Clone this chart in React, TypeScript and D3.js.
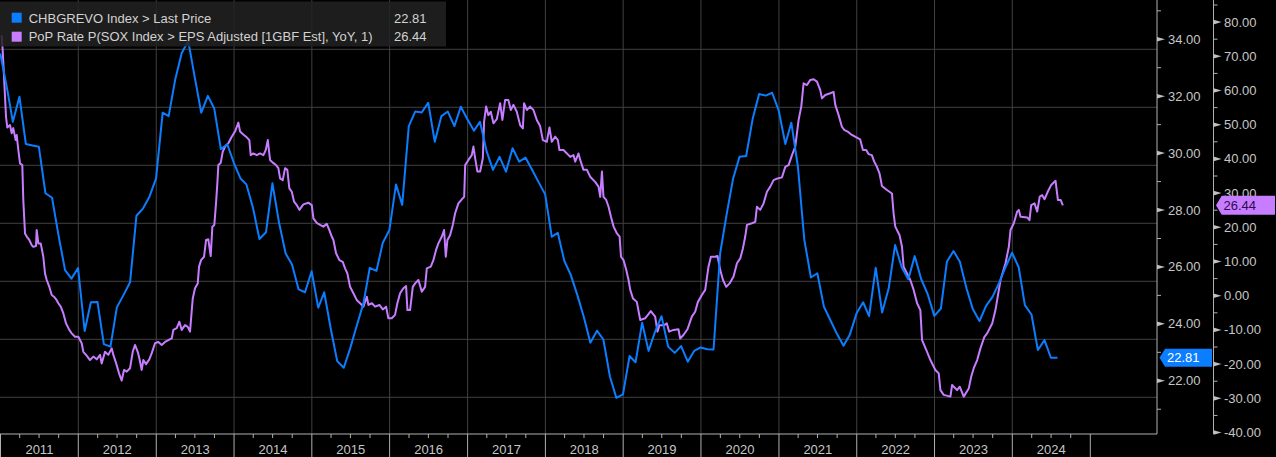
import React from 'react';
import * as d3 from 'd3';

// ---------- DATA ----------
// CHBGREVO Index > Last Price : month-end values, Dec 2010 .. Jul 2024
const blueStartYear = 2010;
const blueStartMonth = 11; // December (0-based)
const blueValues: number[] = [
  33.5,
  32.3, 31.1, 31.98, 30.32, 30.27, 30.22, 28.59, 28.43, 27.12, 25.89, 25.59, 25.96,
  23.75, 24.76, 24.77, 23.29, 23.2, 24.58, 25.01, 25.46, 27.8, 28.06, 28.47, 29.11,
  31.42, 31.3, 32.59, 33.51, 33.94, 32.69, 31.42, 32.01, 31.57, 30.14, 30.31, 29.66,
  29.11, 28.9, 28.07, 26.98, 27.22, 28.94, 27.56, 26.47, 26.09, 25.21, 25.11, 25.85,
  24.57, 25.11, 23.82, 22.69, 22.46, 23.14, 23.94, 24.72, 25.97, 25.86, 26.85, 27.3,
  28.9, 28.18, 30.95, 31.46, 31.43, 31.77, 30.4, 31.3, 31.46, 30.95, 31.63, 31.19,
  30.79, 31.1, 30.07, 29.41, 29.87, 29.35, 30.17, 29.7, 29.84, 29.41, 28.98, 28.55,
  27.06, 27.2, 26.21, 25.72, 25.01, 24.25, 23.34, 23.76, 23.45, 22.14, 21.4, 21.52,
  22.87, 22.65, 24.04, 23.05, 23.73, 24.27, 23.2, 22.98, 23.22, 22.67, 23.05, 23.17,
  23.11, 23.1, 26.48, 27.83, 29.11, 29.87, 29.9, 31.22, 32.08, 32.02, 32.12, 31.49,
  30.32, 31.07, 29.52, 26.95, 25.63, 25.78, 24.6, 24.12, 23.65, 23.23, 23.63, 24.37,
  24.76, 24.27, 25.97, 24.4, 25.25, 26.77, 25.99, 25.57, 26.38, 25.56, 25.04, 24.28,
  24.54, 26.18, 26.56, 26.18, 25.25, 24.51, 24.1, 24.63, 24.95, 25.44, 25.99, 26.5,
  25.99, 24.66, 24.33, 23.08, 23.43, 22.81, 22.81,
];

// PoP Rate P(SOX Index > EPS Adjusted [1GBF Est], YoY, 1): decimal-year times and values
const purpleT: number[] = [
  2011.015, 2011.028, 2011.071, 2011.087, 2011.122, 2011.144, 2011.164, 2011.195, 2011.208, 2011.229,
  2011.251, 2011.28, 2011.293, 2011.315, 2011.337, 2011.37, 2011.401, 2011.421, 2011.456, 2011.465,
  2011.486, 2011.517, 2011.55, 2011.572, 2011.594, 2011.627, 2011.658, 2011.687, 2011.722, 2011.743,
  2011.774, 2011.807, 2011.842, 2011.884, 2011.915, 2011.957, 2012.0, 2012.043, 2012.064, 2012.099,
  2012.15, 2012.193, 2012.236, 2012.279, 2012.3, 2012.343, 2012.385, 2012.429, 2012.45, 2012.493,
  2012.523, 2012.557, 2012.587, 2012.622, 2012.664, 2012.699, 2012.728, 2012.763, 2012.784, 2012.814,
  2012.835, 2012.87, 2012.912, 2012.943, 2012.985, 2013.028, 2013.071, 2013.114, 2013.156, 2013.2,
  2013.221, 2013.264, 2013.298, 2013.328, 2013.371, 2013.406, 2013.435, 2013.47, 2013.499, 2013.534,
  2013.551, 2013.577, 2013.615, 2013.641, 2013.67, 2013.701, 2013.722, 2013.747, 2013.769, 2013.786,
  2013.799, 2013.83, 2013.855, 2013.885, 2013.927, 2013.971, 2014.013, 2014.056, 2014.078, 2014.112,
  2014.155, 2014.197, 2014.215, 2014.249, 2014.292, 2014.335, 2014.377, 2014.408, 2014.434, 2014.463,
  2014.498, 2014.54, 2014.57, 2014.592, 2014.626, 2014.656, 2014.685, 2014.711, 2014.742, 2014.772,
  2014.806, 2014.84, 2014.891, 2014.955, 2014.999, 2015.02, 2015.063, 2015.106, 2015.148, 2015.192,
  2015.225, 2015.256, 2015.277, 2015.311, 2015.354, 2015.397, 2015.427, 2015.457, 2015.491, 2015.534,
  2015.578, 2015.62, 2015.662, 2015.706, 2015.727, 2015.771, 2015.813, 2015.868, 2015.912, 2015.954,
  2015.983, 2016.027, 2016.069, 2016.099, 2016.134, 2016.176, 2016.211, 2016.228, 2016.262, 2016.297,
  2016.327, 2016.369, 2016.413, 2016.455, 2016.477, 2016.528, 2016.562, 2016.596, 2016.626, 2016.67,
  2016.699, 2016.721, 2016.742, 2016.776, 2016.811, 2016.841, 2016.883, 2016.927, 2016.957, 2016.97,
  2017.012, 2017.055, 2017.076, 2017.098, 2017.127, 2017.162, 2017.197, 2017.213, 2017.239, 2017.268,
  2017.299, 2017.333, 2017.376, 2017.419, 2017.448, 2017.483, 2017.525, 2017.556, 2017.59, 2017.633,
  2017.676, 2017.711, 2017.727, 2017.762, 2017.804, 2017.847, 2017.89, 2017.933, 2017.968, 2018.019,
  2018.053, 2018.083, 2018.126, 2018.161, 2018.181, 2018.233, 2018.277, 2018.319, 2018.362, 2018.384,
  2018.426, 2018.448, 2018.49, 2018.534, 2018.576, 2018.64, 2018.683, 2018.705, 2018.727, 2018.747,
  2018.782, 2018.812, 2018.843, 2018.877, 2018.92, 2018.954, 2018.972, 2019.005, 2019.04, 2019.069,
  2019.091, 2019.126, 2019.175, 2019.219, 2019.282, 2019.355, 2019.411, 2019.44, 2019.466, 2019.526,
  2019.561, 2019.59, 2019.646, 2019.71, 2019.732, 2019.774, 2019.826, 2019.882, 2019.925, 2019.96,
  2020.011, 2020.054, 2020.096, 2020.127, 2020.183, 2020.212, 2020.247, 2020.282, 2020.324, 2020.367,
  2020.418, 2020.462, 2020.504, 2020.539, 2020.568, 2020.59, 2020.654, 2020.697, 2020.718, 2020.761,
  2020.804, 2020.847, 2020.89, 2020.932, 2020.984, 2021.04, 2021.083, 2021.125, 2021.169, 2021.211,
  2021.254, 2021.288, 2021.318, 2021.361, 2021.404, 2021.446, 2021.49, 2021.532, 2021.554, 2021.596,
  2021.66, 2021.703, 2021.725, 2021.768, 2021.81, 2021.84, 2021.883, 2021.938, 2022.003, 2022.045,
  2022.08, 2022.122, 2022.152, 2022.195, 2022.225, 2022.26, 2022.293, 2022.324, 2022.389, 2022.453,
  2022.474, 2022.496, 2022.551, 2022.582, 2022.603, 2022.647, 2022.689, 2022.732, 2022.776, 2022.818,
  2022.84, 2022.895, 2022.947, 2023.011, 2023.054, 2023.076, 2023.118, 2023.204, 2023.226, 2023.29,
  2023.324, 2023.375, 2023.44, 2023.471, 2023.504, 2023.548, 2023.59, 2023.641, 2023.676, 2023.741,
  2023.783, 2023.848, 2023.912, 2023.955, 2023.976, 2024.019, 2024.062, 2024.083, 2024.105, 2024.191,
  2024.22, 2024.242, 2024.285, 2024.319, 2024.352, 2024.383, 2024.413, 2024.455, 2024.499, 2024.555,
  2024.585, 2024.62, 2024.649,
];
const purpleV: number[] = [
  76.2, 71.8, 52.3, 49.2, 49.9, 47.5, 49.0, 45.5, 47.0, 42.6,
  38.7, 38.2, 28.0, 18.2, 17.3, 16.3, 14.8, 14.3, 14.5, 19.2,
  15.3, 15.3, 11.4, 6.5, 4.6, 2.6, 0.2, -0.3, -1.3, -2.2,
  -3.2, -5.1, -8.1, -10.0, -11.0, -12.0, -12.0, -13.9, -16.4, -17.3,
  -18.8, -17.8, -18.6, -17.3, -19.8, -16.4, -17.3, -15.4, -17.3, -20.3,
  -22.7, -24.8, -21.7, -22.2, -21.2, -16.4, -14.4, -16.4, -18.3, -21.7,
  -18.8, -20.0, -18.6, -16.8, -13.9, -13.5, -14.4, -13.5, -13.0, -12.5,
  -10.0, -9.5, -7.6, -10.0, -8.6, -9.1, -10.5, -0.8, 2.2, 3.6,
  8.5, 10.4, 11.4, 16.3, 16.5, 11.6, 20.2, 20.7, 27.0, 32.9,
  38.2, 38.9, 42.1, 43.6, 44.6, 46.5, 48.0, 50.6, 48.0, 47.3,
  46.5, 45.5, 41.1, 41.6, 41.1, 41.6, 41.1, 42.6, 45.5, 39.7,
  38.9, 38.2, 37.3, 34.3, 33.8, 37.3, 36.8, 31.4, 30.4, 27.5,
  26.5, 25.1, 26.7, 27.2, 26.5, 22.6, 21.3, 20.7, 20.2, 21.0,
  19.2, 17.3, 16.3, 12.4, 10.4, 9.9, 8.0, 6.5, 2.6, 0.7,
  -1.3, -2.2, -3.2, -0.3, -2.7, -2.2, -3.2, -2.7, -4.0, -3.2,
  -6.6, -6.6, -5.6, -2.2, 0.7, 2.2, 2.8, -4.2, -4.2, 2.6,
  3.6, 4.6, 1.2, 2.6, 8.0, 8.5, 10.4, 13.4, 15.3, 17.3,
  19.2, 11.4, 16.3, 17.7, 20.7, 24.1, 27.0, 28.2, 28.9, 38.2,
  39.7, 41.1, 43.6, 40.2, 36.3, 36.3, 40.2, 50.9, 55.3, 52.8,
  53.8, 50.4, 51.6, 56.3, 51.4, 57.2, 57.2, 54.3, 55.8, 53.8,
  49.9, 48.9, 56.3, 54.3, 55.3, 54.3, 51.4, 49.6, 45.5, 45.0,
  49.2, 45.0, 46.5, 45.5, 42.6, 42.6, 41.6, 40.6, 41.1, 39.2,
  41.6, 39.7, 36.8, 36.8, 34.8, 33.3, 31.9, 28.9, 36.3, 28.9,
  28.0, 26.0, 23.1, 20.2, 18.2, 17.3, 11.4, 10.4, 7.5, 4.6,
  1.7, -0.8, -1.8, -7.1, -6.6, -4.5, -6.1, -10.5, -8.6, -8.6,
  -8.1, -10.5, -10.0, -9.8, -12.5, -11.5, -9.8, -6.1, -4.7, -1.8,
  0.2, 1.7, 8.5, 11.4, 11.4, 11.6, 7.5, 4.6, 2.6, 3.6,
  5.6, 9.5, 10.9, 13.9, 17.3, 20.7, 21.2, 21.6, 26.0, 25.1,
  27.0, 30.4, 31.9, 33.8, 34.3, 34.6, 37.7, 38.2, 41.1, 43.6,
  51.4, 55.3, 62.1, 61.6, 63.1, 63.3, 62.6, 60.1, 57.7, 58.7,
  59.2, 59.6, 55.8, 52.8, 49.4, 48.5, 48.0, 47.0, 46.2, 45.7,
  42.6, 42.6, 41.4, 41.1, 39.2, 37.7, 35.8, 32.1, 30.9, 29.9,
  24.1, 20.2, 17.7, 14.3, 8.5, 6.5, 4.6, 1.7, -2.2, -4.2,
  -13.0, -15.9, -18.8, -21.7, -22.7, -27.6, -29.0, -29.5, -26.1, -27.6,
  -26.6, -29.5, -27.1, -23.7, -21.2, -18.8, -15.4, -12.0, -11.0, -8.1,
  -4.2, 4.6, 9.5, 14.3, 19.2, 21.2, 24.6, 25.1, 23.1, 22.9,
  22.1, 26.5, 27.0, 24.6, 29.0, 29.4, 28.2, 30.4, 32.4, 33.6,
  28.0, 28.0, 26.44,
];

const leftTicks = [22, 24, 26, 28, 30, 32, 34];
const leftMinor = [21, 23, 25, 27, 29, 31, 33, 35];
const rightTicks = [-40, -30, -20, -10, 0, 10, 20, 30, 40, 50, 60, 70, 80];
const rightMinor = [-35, -25, -15, -5, 5, 15, 25, 35, 45, 55, 65, 75, 85];
const years = [2011, 2012, 2013, 2014, 2015, 2016, 2017, 2018, 2019, 2020, 2021, 2022, 2023, 2024];

const blueName = 'CHBGREVO Index > Last Price';
const purpleName = 'PoP Rate P(SOX Index > EPS Adjusted [1GBF Est], YoY, 1)';
const blueLast = 22.81;
const purpleLast = 26.44;

// ---------- LAYOUT ----------
const W = 1276;
const H = 457;
const PLOT_R = 1157;
const PLOT_B = 434;
const AXIS2 = 1213.5;
const BLUE = '#0b7dff';
const PURPLE = '#c77dff';
const FONT = '"Liberation Sans", Arial, Helvetica, sans-serif';
const TXT = '#c6c6c6';

function fromDecimalYear(t: number): Date {
  const base = new Date(2011, 0, 1).getTime();
  return new Date(base + (t - 2011) * 365.25 * 86400000);
}

export default function App() {
  const x = d3.scaleTime().domain([new Date(2011, 0, 1), new Date(2025, 10, 10)]).range([0.5, PLOT_R]);
  const yL = d3.scaleLinear().domain([20.13, 35.38]).range([PLOT_B, 0]);
  const yR = d3.scaleLinear().domain([-40.43, 86.46]).range([PLOT_B, 0]);
  const yGrid = d3.scaleLinear().domain([0, 6]).range([49.3, 397.3]);

  const blueData: [Date, number][] = blueValues.map((v, i) => [
    new Date(blueStartYear, blueStartMonth + i + 1, 0),
    v,
  ]);
  const purpleData: [Date, number][] = purpleT.map((t, i) => [fromDecimalYear(t), purpleV[i]]);

  const blueLine = d3.line<[Date, number]>().x((d) => x(d[0])).y((d) => yL(d[1]));
  const purpleLine = d3.line<[Date, number]>().x((d) => x(d[0])).y((d) => yR(d[1]));

  const yearX = (y: number) => x(new Date(y, 0, 1));
  const quarterTicks: number[] = [];
  years.forEach((y) => [3, 6, 9].forEach((m) => quarterTicks.push(x(new Date(y, m, 1)))));

  const yb = yL(blueLast);
  const yp = yR(purpleLast);

  return (
    <div style={{ position: 'absolute', left: 0, top: 0, width: W, height: H, background: '#000' }}>
      <svg width={W} height={H} style={{ display: 'block', fontFamily: FONT }}>
        <defs>
          <clipPath id="plotClip">
            <rect x={0} y={0} width={PLOT_R} height={PLOT_B} />
          </clipPath>
        </defs>
        <rect x={0} y={0} width={W} height={H} fill="#000" />

        {/* gridlines */}
        {d3.range(7).map((i) => (
          <line key={'hg' + i} x1={0} x2={PLOT_R} y1={yGrid(i)} y2={yGrid(i)} stroke="#404040" strokeWidth={1} />
        ))}
        {years.slice(1).map((y) => (
          <line key={'vg' + y} x1={yearX(y)} x2={yearX(y)} y1={0} y2={PLOT_B} stroke="#404040" strokeWidth={1} />
        ))}

        {/* series */}
        <g clipPath="url(#plotClip)">
          <path d={purpleLine(purpleData) || ''} fill="none" stroke={PURPLE} strokeWidth={2} strokeLinejoin="round" />
          <path d={blueLine(blueData) || ''} fill="none" stroke={BLUE} strokeWidth={2} strokeLinejoin="round" />
        </g>

        {/* bottom axis */}
        <line x1={0} x2={PLOT_R} y1={PLOT_B} y2={PLOT_B} stroke="#b0b0b0" strokeWidth={1} />
        {[...years, 2025].map((y) => (
          <line key={'ys' + y} x1={yearX(y)} x2={yearX(y)} y1={PLOT_B} y2={H} stroke="#b0b0b0" strokeWidth={1} />
        ))}
        {quarterTicks.map((qx, i) => (
          <line key={'qt' + i} x1={qx} x2={qx} y1={PLOT_B} y2={PLOT_B + 4} stroke="#b0b0b0" strokeWidth={1} />
        ))}
        {years.map((y) => (
          <text key={'yl' + y} x={(yearX(y) + yearX(y + 1)) / 2} y={454} fill={TXT} fontSize={13} textAnchor="middle">
            {y}
          </text>
        ))}

        {/* left value axis (CHBGREVO) */}
        <line x1={PLOT_R} x2={PLOT_R} y1={0} y2={PLOT_B} stroke="#b0b0b0" strokeWidth={1} />
        {leftMinor.map((v) => (
          <line key={'lm' + v} x1={PLOT_R} x2={PLOT_R + 4} y1={yL(v)} y2={yL(v)} stroke="#b0b0b0" strokeWidth={1} />
        ))}
        {leftTicks.map((v) => (
          <g key={'lt' + v}>
            <polygon
              points={`${PLOT_R},${yL(v) - 2.3} ${PLOT_R + 8},${yL(v)} ${PLOT_R},${yL(v) + 2.3}`}
              fill="#c0c0c0"
            />
            <text x={1168} y={yL(v)} dy="0.35em" fill={TXT} fontSize={13}>
              {v.toFixed(2)}
            </text>
          </g>
        ))}

        {/* right value axis (PoP rate) */}
        <line x1={AXIS2} x2={AXIS2} y1={0} y2={PLOT_B} stroke="#b0b0b0" strokeWidth={1} />
        {rightMinor.map((v) => (
          <line key={'rm' + v} x1={AXIS2} x2={AXIS2 + 4} y1={yR(v)} y2={yR(v)} stroke="#b0b0b0" strokeWidth={1} />
        ))}
        {rightTicks.map((v) => (
          <g key={'rt' + v}>
            <polygon
              points={`${AXIS2},${yR(v) - 2.3} ${AXIS2 + 8},${yR(v)} ${AXIS2},${yR(v) + 2.3}`}
              fill="#c0c0c0"
            />
            <text x={1224} y={yR(v)} dy="0.35em" fill={TXT} fontSize={13}>
              {v.toFixed(2)}
            </text>
          </g>
        ))}

        {/* last value tags */}
        <polygon
          points={`${1159.5},${yb} ${1165},${yb - 9} ${1212},${yb - 9} ${1212},${yb + 9} ${1165},${yb + 9}`}
          fill={BLUE}
        />
        <text x={1167} y={yb} dy="0.35em" fill="#ffffff" fontSize={13}>
          {blueLast.toFixed(2)}
        </text>
        <polygon
          points={`${1216},${yp} ${1221.7},${yp - 9.5} ${1275},${yp - 9.5} ${1275},${yp + 9.5} ${1221.7},${yp + 9.5}`}
          fill={PURPLE}
        />
        <text x={1223.5} y={yp} dy="0.35em" fill="#2e0a52" fontSize={13}>
          {purpleLast.toFixed(2)}
        </text>

        {/* legend */}
        <rect x={0} y={1.5} width={446} height={45} fill="rgb(34,34,34)" fillOpacity={0.86} />
        <rect x={11.7} y={12.7} width={10} height={10} fill={BLUE} />
        <text x={28.7} y={22.5} fill="#d2d2d2" fontSize={13}>
          {blueName}
        </text>
        <text x={394} y={22.5} fill="#d2d2d2" fontSize={13}>
          {blueLast.toFixed(2)}
        </text>
        <rect x={11.7} y={31.7} width={10} height={10} fill={PURPLE} />
        <text x={28.7} y={40.7} fill="#d2d2d2" fontSize={13}>
          {purpleName}
        </text>
        <text x={394} y={40.7} fill="#d2d2d2" fontSize={13}>
          {purpleLast.toFixed(2)}
        </text>
      </svg>
    </div>
  );
}
